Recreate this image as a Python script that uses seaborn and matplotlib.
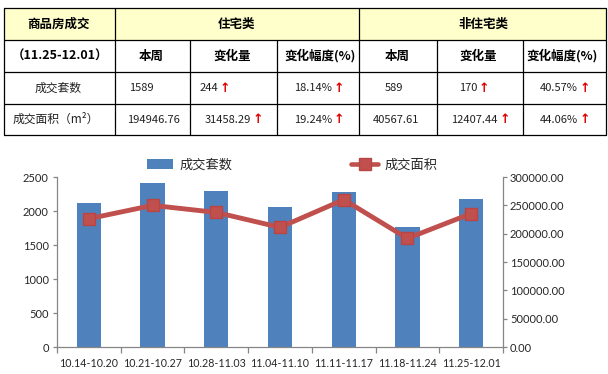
import numpy as np
import pandas as pd
import matplotlib
matplotlib.use("Agg")
import matplotlib.pyplot as plt
import seaborn as sns
from matplotlib.patches import Patch, Rectangle
from matplotlib.lines import Line2D
from matplotlib.ticker import FormatStrFormatter, MultipleLocator

# ---------------- data ----------------
weeks = ["10.14-10.20", "10.21-10.27", "10.28-11.03", "11.04-11.10",
         "11.11-11.17", "11.18-11.24", "11.25-12.01"]
units = [2120, 2405, 2290, 2055, 2280, 1764, 2178]
area = [226400, 249900, 237500, 211100, 260000, 191648.64, 235514.37]

table_top = ["商品房成交", "住宅类", "非住宅类"]
table_sub = ["（11.25-12.01）", "本周", "变化量", "变化幅度(%)", "本周", "变化量", "变化幅度(%)"]
row_labels = ["成交套数", "成交面积（m²）"]
res_week = ["1589", "194946.76"]
res_chg = ["244", "31458.29"]
res_pct = ["18.14%", "19.24%"]
non_week = ["589", "40567.61"]
non_chg = ["170", "12407.44"]
non_pct = ["40.57%", "44.06%"]

BAR = "#4F81BD"
LINE = "#C0504D"
AX_C = "#868686"
TXT = "#262626"

sns.set_theme(style="white")
plt.rcParams["font.family"] = ["Lato", "Noto Sans CJK SC", "DejaVu Sans"]
CJK = ["Noto Sans CJK SC", "DejaVu Sans"]

W, H = 608, 374
fig = plt.figure(figsize=(W / 100, H / 100), dpi=100)

# ---------------- table (pixel coordinates) ----------------
tax = fig.add_axes([0, 0, 1, 1])
tax.set_xlim(0, W)
tax.set_ylim(H, 0)
tax.axis("off")
cols = [4, 115, 190, 277, 359, 437, 523, 606]
rows = [8, 40, 72, 104, 135]
tax.add_patch(Rectangle((cols[0], rows[0]), cols[-1] - cols[0], rows[1] - rows[0],
                        facecolor="#FFFFCC", edgecolor="none", zorder=0))
for y in rows:
    tax.plot([cols[0], cols[-1]], [y, y], color="black", lw=0.9, solid_capstyle="butt")
for x in cols:
    if x in (190, 277, 437, 523):
        tax.plot([x, x], [rows[1], rows[-1]], color="black", lw=0.9)
    else:
        tax.plot([x, x], [rows[0], rows[-1]], color="black", lw=0.9)

rc = [(rows[i] + rows[i + 1]) / 2 for i in range(4)]
tax.text(59, rc[0], table_top[0], ha="center", va="center", fontsize=9, fontweight="bold", family=CJK, color="black")
tax.text(236, rc[0], table_top[1], ha="center", va="center", fontsize=9, fontweight="bold", family=CJK, color="black")
tax.text(483, rc[0], table_top[2], ha="center", va="center", fontsize=9, fontweight="bold", family=CJK, color="black")
sub_x = [60, 151, 232, 320, 397, 478, 562]
for x, t in zip(sub_x, table_sub):
    tax.text(x, rc[1], t, ha="center", va="center", fontsize=9, fontweight="bold", family=CJK, color="black")

def cell(xr, y, t, arrow):
    tax.text(xr, y, t, ha="right", va="center", fontsize=8, family=CJK, color="#202020")
    if arrow:
        tax.text(xr + 2, y, "↑", ha="left", va="center", fontsize=9, fontweight="bold",
                 family=["DejaVu Sans"], color="#E00000")

for i in range(2):
    y = rc[2 + i]
    tax.text(58 if i == 0 else 56, y, row_labels[i], ha="center", va="center", fontsize=8.5, family=CJK, color="#202020")
    cell([154, 180][i], y, res_week[i], False)
    cell([218, 251][i], y, res_chg[i], True)
    cell(332, y, res_pct[i], True)
    cell([403, 419][i], y, non_week[i], False)
    cell([477, 498][i], y, non_chg[i], True)
    cell(578, y, non_pct[i], True)

# ---------------- chart ----------------
ax = fig.add_axes([57 / W, 1 - 347 / H, (503 - 57) / W, 170 / H])
df = pd.DataFrame({"week": weeks, "units": units, "area": area})
sns.barplot(data=df, x="week", y="units", ax=ax, color=BAR, width=0.38,
            saturation=1, edgecolor="none", zorder=2)
ax.set_ylim(0, 2500)
ax.yaxis.set_major_locator(MultipleLocator(500))
ax.set_xlim(-0.5, len(weeks) - 0.5)
ax.set_xlabel("")
ax.set_ylabel("")

ax2 = ax.twinx()
sns.lineplot(data=df, x="week", y="area", ax=ax2, color=LINE, lw=3.5, sort=False,
             marker="s", markersize=9, markeredgecolor="#B84543", markeredgewidth=1, zorder=3)
ax2.set_ylim(0, 300000)
ax2.yaxis.set_major_locator(MultipleLocator(50000))
ax2.yaxis.set_major_formatter(FormatStrFormatter("%.2f"))
ax2.set_xlim(-0.5, len(weeks) - 0.5)
ax2.set_ylabel("")
ax2.set_xlabel("")

for a in (ax, ax2):
    for s in a.spines.values():
        s.set_color(AX_C)
        s.set_linewidth(0.9)
    a.spines["top"].set_visible(False)
ax.spines["right"].set_visible(False)
ax2.spines["left"].set_visible(False)
ax2.spines["bottom"].set_visible(False)

ax.tick_params(axis="y", direction="out", length=3, width=0.9, color=AX_C, pad=3,
               labelsize=8, labelcolor=TXT, left=True)
ax.tick_params(axis="x", which="major", length=0, pad=8, labelsize=7.7, labelcolor=TXT)
ax.set_xticks(np.arange(-0.5, len(weeks), 1), minor=True)
ax.tick_params(axis="x", which="minor", direction="out", length=4, width=0.9, color=AX_C, bottom=True)
ax2.tick_params(axis="y", direction="out", length=3, width=0.9, color=AX_C, pad=2,
                labelsize=8, labelcolor=TXT, right=True)

handles = [Patch(facecolor=BAR, edgecolor="none"),
           Line2D([], [], color=LINE, lw=3.3, marker="s", markersize=8, markeredgecolor="#B84543")]
fig.legend(handles, ["成交套数", "成交面积"], loc="center", bbox_to_anchor=(292 / W, 1 - 165 / H),
           ncol=2, frameon=False, prop={"family": CJK, "size": 9.5}, handlelength=2.0,
           handletextpad=0.5, columnspacing=9.0, labelcolor=TXT)

fig.savefig("out.png", dpi=100)
